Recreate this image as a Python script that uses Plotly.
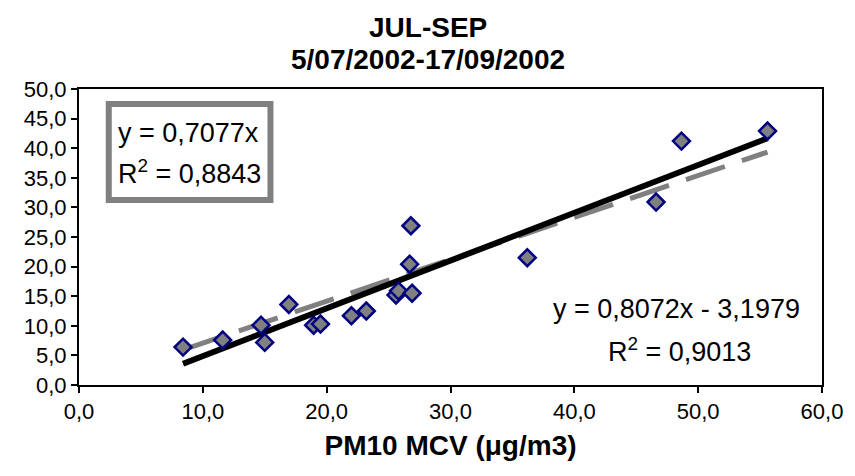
import plotly.graph_objects as go

# Data
pm10_mcv = [8.4, 11.6, 14.7, 15.0, 16.95, 18.95, 19.5, 22.0, 23.2, 25.6, 25.8, 26.8, 26.7, 26.9, 36.2, 46.6, 48.65, 55.6]
pm10_ref = [6.4, 7.6, 10.1, 7.2, 13.6, 10.1, 10.3, 11.7, 12.5, 15.2, 15.9, 26.9, 20.4, 15.5, 21.5, 30.9, 41.2, 42.9]

# trendline coefficients (from the reference's equations)
slope_lin, intercept_lin = 0.8072, -3.1979
slope_0 = 0.7077

xmin, xmax = min(pm10_mcv), max(pm10_mcv)
fit_x = [xmin, xmax]
fit_lin = [slope_lin * v + intercept_lin for v in fit_x]
fit_0 = [slope_0 * v for v in fit_x]

x_ticks = [0, 10, 20, 30, 40, 50, 60]
y_ticks = [0, 5, 10, 15, 20, 25, 30, 35, 40, 45, 50]

title_lines = ["JUL-SEP", "5/07/2002-17/09/2002"]
eq0_lines = ["y = 0,7077x", "R<sup>2</sup> = 0,8843"]
eq1_lines = ["y = 0,8072x - 3,1979", "R<sup>2</sup> = 0,9013"]

# pixel geometry of the plot area
L, R, T, B = 79, 828, 89, 385
W, H = R - L, B - T
px = lambda x: (x - L) / W
py = lambda y: (B - y) / H

fig = go.Figure()
fig.add_trace(go.Scatter(x=fit_x, y=fit_0, mode="lines",
                         line=dict(color="#808080", width=5, dash="41px,18px"),
                         showlegend=False, hoverinfo="skip"))
fig.add_trace(go.Scatter(x=fit_x, y=fit_lin, mode="lines",
                         line=dict(color="black", width=6),
                         showlegend=False, hoverinfo="skip"))
fig.add_trace(go.Scatter(x=pm10_mcv, y=pm10_ref, mode="markers",
                         marker=dict(symbol="diamond", size=13, color="#808080",
                                     line=dict(color="#000080", width=2.5)),
                         showlegend=False))

ff = "Liberation Sans, Arial, sans-serif"

annotations = [
    dict(text="<b>%s</b>" % title_lines[0], xref="paper", yref="paper",
         x=px(431), y=py(28), xanchor="center", yanchor="middle", showarrow=False,
         font=dict(size=28, family=ff, color="black")),
    dict(text="<b>%s</b>" % title_lines[1], xref="paper", yref="paper",
         x=px(431), y=py(59), xanchor="center", yanchor="middle", showarrow=False,
         font=dict(size=28, family=ff, color="black")),
    dict(text=eq0_lines[0], xref="paper", yref="paper",
         x=px(116), y=py(133), xanchor="left", yanchor="middle", showarrow=False,
         font=dict(size=27, family=ff, color="black")),
    dict(text=eq0_lines[1], xref="paper", yref="paper",
         x=px(116), y=py(172), xanchor="left", yanchor="middle", showarrow=False,
         font=dict(size=27, family=ff, color="black")),
    dict(text=eq1_lines[0], xref="paper", yref="paper",
         x=px(681), y=py(309), xanchor="center", yanchor="middle", showarrow=False,
         font=dict(size=27, family=ff, color="black")),
    dict(text=eq1_lines[1], xref="paper", yref="paper",
         x=px(684), y=py(350), xanchor="center", yanchor="middle", showarrow=False,
         font=dict(size=27, family=ff, color="black")),
]

fig.update_layout(
    width=855, height=476,
    margin=dict(l=L, r=855 - R, t=T, b=476 - B),
    paper_bgcolor="white", plot_bgcolor="white",
    separators=",.",
    font=dict(family=ff, color="black", size=22),
    xaxis=dict(range=[0, 60], tickvals=x_ticks, tickformat=".1f",
               showgrid=False, zeroline=False,
               showline=True, linecolor="black", linewidth=2, mirror=True,
               ticks="outside", ticklen=6, tickwidth=1.5, tickcolor="black",
               tickfont=dict(size=22),
               title=dict(text="<b>PM10 MCV (μg/m3)</b>", font=dict(size=28), standoff=12)),
    yaxis=dict(range=[0, 50], tickvals=y_ticks, tickformat=".1f",
               showgrid=False, zeroline=False,
               showline=True, linecolor="black", linewidth=2, mirror=True,
               ticks="outside", ticklen=6, tickwidth=1.5, tickcolor="black",
               tickfont=dict(size=22)),
    shapes=[dict(type="rect", xref="paper", yref="paper",
                 x0=px(109), x1=px(272), y0=py(200), y1=py(104),
                 line=dict(color="#808080", width=6), fillcolor="white", layer="below")],
    annotations=annotations,
)

fig.write_html("out.html", config={"displayModeBar": False},
               post_script="document.body.style.margin='0';document.body.style.overflow='hidden';")
